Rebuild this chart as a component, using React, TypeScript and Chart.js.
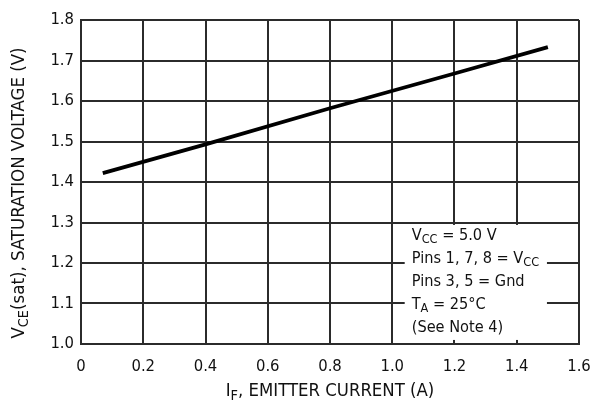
import React, { useEffect, useRef } from "react";
import { Chart, registerables } from "chart.js";

Chart.register(...registerables);

// Data
const emitterCurrentA = [0.07, 0.4, 0.8, 1.2, 1.5];
const saturationVoltageV = [1.422, 1.493, 1.582, 1.668, 1.733];

const xTicks = [0, 0.2, 0.4, 0.6, 0.8, 1.0, 1.2, 1.4, 1.6];
const yTicks = [1.0, 1.1, 1.2, 1.3, 1.4, 1.5, 1.6, 1.7, 1.8];

type Part = { t: string; sub?: boolean };
const conditionLines: Part[][] = [
  [{ t: "V" }, { t: "CC", sub: true }, { t: " = 5.0 V" }],
  [{ t: "Pins 1, 7, 8 = V" }, { t: "CC", sub: true }],
  [{ t: "Pins 3, 5 = Gnd" }],
  [{ t: "T" }, { t: "A", sub: true }, { t: " = 25°C" }],
  [{ t: "(See Note 4)" }],
];
const xTitle: Part[] = [{ t: "I" }, { t: "F", sub: true }, { t: ", EMITTER CURRENT (A)" }];
const yTitle: Part[] = [{ t: "V" }, { t: "CE", sub: true }, { t: "(sat), SATURATION VOLTAGE (V)" }];

const FONT = "'DejaVu Sans Condensed', 'Liberation Sans Narrow', sans-serif";
const INK = "#111111";
const GRID = "#2b2b2b";

function richWidth(ctx: CanvasRenderingContext2D, parts: Part[], size: number) {
  let w = 0;
  for (const p of parts) {
    ctx.font = `${p.sub ? size * 0.78 : size}px ${FONT}`;
    w += ctx.measureText(p.t).width;
  }
  return w;
}

function drawRich(ctx: CanvasRenderingContext2D, parts: Part[], x: number, y: number, size: number) {
  let cx = x;
  ctx.textBaseline = "middle";
  ctx.textAlign = "left";
  for (const p of parts) {
    const s = p.sub ? size * 0.78 : size;
    ctx.font = `${s}px ${FONT}`;
    ctx.fillText(p.t, cx, p.sub ? y + size * 0.28 : y);
    cx += ctx.measureText(p.t).width;
  }
}

const overlayPlugin = {
  id: "overlay",
  beforeDatasetsDraw(chart: any) {
    const { ctx, scales } = chart;
    const x0 = scales.x.getPixelForValue(1.04);
    const x1 = scales.x.getPixelForValue(1.497);
    const y0 = scales.y.getPixelForValue(1.294);
    const y1 = scales.y.getPixelForValue(1.01);
    ctx.save();
    ctx.fillStyle = "#ffffff";
    ctx.fillRect(x0, y0, x1 - x0, y1 - y0);
    ctx.restore();
  },
  afterDraw(chart: any) {
    const { ctx, scales, chartArea } = chart;
    ctx.save();
    ctx.fillStyle = INK;
    // condition box text
    const bx = scales.x.getPixelForValue(1.04) + 7;
    const by = scales.y.getPixelForValue(1.294) + 10.5;
    conditionLines.forEach((line, i) => drawRich(ctx, line, bx, by + i * 23, 16.2));
    // x title
    const xs = 18.4;
    const xw = richWidth(ctx, xTitle, xs);
    drawRich(ctx, xTitle, (chartArea.left + chartArea.right) / 2 - xw / 2, 391, xs);
    // y title
    const ys = 18.5;
    const yw = richWidth(ctx, yTitle, ys);
    ctx.translate(19, 193);
    ctx.rotate(-Math.PI / 2);
    drawRich(ctx, yTitle, -yw / 2, 0, ys);
    ctx.restore();
  },
};

export default function App() {
  const ref = useRef<HTMLCanvasElement | null>(null);
  useEffect(() => {
    document.body.style.margin = "0";
    if (!ref.current) return;
    const chart = new Chart(ref.current, {
      type: "line",
      data: {
        datasets: [
          {
            data: emitterCurrentA.map((x, i) => ({ x, y: saturationVoltageV[i] })),
            borderColor: "#000000",
            borderWidth: 3.8,
            pointRadius: 0,
            tension: 0,
          },
        ],
      },
      options: {
        responsive: false,
        animation: false,
        devicePixelRatio: 1,
        layout: { padding: { left: 0, top: 20, right: 11, bottom: 0 } },
        plugins: { legend: { display: false }, tooltip: { enabled: false }, title: { display: false } },
        scales: {
          x: {
            type: "linear",
            min: 0,
            max: 1.6,
            afterFit: (s: any) => {
              s.height = 62;
              s.paddingLeft = 0;
              s.paddingRight = 0;
            },
            afterBuildTicks: (s: any) => { s.ticks = xTicks.map((v) => ({ value: v })); },
            ticks: {
              color: INK,
              font: { family: FONT, size: 16.5 },
              padding: 13,
              maxRotation: 0,
              autoSkip: false,
              callback: (v: any) => (Number(v) === 0 ? "0" : Number(v).toFixed(1)),
            },
            grid: { color: GRID, lineWidth: 2, drawTicks: false },
            border: { color: GRID, width: 2 },
          },
          y: {
            type: "linear",
            min: 1.0,
            max: 1.8,
            afterFit: (s: any) => {
              s.width = 81;
              s.paddingTop = 0;
              s.paddingBottom = 0;
            },
            afterBuildTicks: (s: any) => { s.ticks = yTicks.map((v) => ({ value: v })); },
            ticks: {
              color: INK,
              font: { family: FONT, size: 16.5 },
              padding: 7,
              autoSkip: false,
              callback: (v: any) => Number(v).toFixed(1),
            },
            grid: { color: GRID, lineWidth: 2, drawTicks: false },
            border: { color: GRID, width: 2 },
          },
        },
      },
      plugins: [overlayPlugin],
    });
    return () => chart.destroy();
  }, []);
  return (
    <div style={{ width: 590, height: 406 }}>
      <canvas ref={ref} width={590} height={406} style={{ display: "block" }} />
    </div>
  );
}
